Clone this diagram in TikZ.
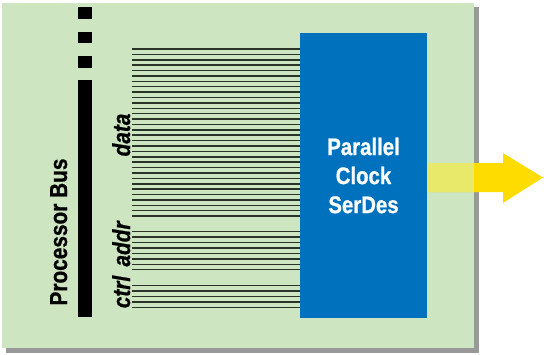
\documentclass[tikz,border=0pt]{standalone}
\usepackage{fontspec}
\usetikzlibrary{calc}
\setmainfont{Liberation Sans}[FakeStretch=0.85,BoldFeatures={FakeBold=0.8},BoldItalicFeatures={FakeBold=0.8}]
\definecolor{boardgreen}{HTML}{CEE5C1}
\definecolor{serdesblue}{HTML}{0071BC}
\definecolor{arrowyellow}{HTML}{FFDC00}
\definecolor{paleyellow}{HTML}{E8E86A}
\definecolor{wire}{HTML}{2A3328}
\tikzset{
  busbar/.style={fill=black},
  wireline/.style={draw=wire,line width=1.5pt},
  buslabel/.style={rotate=90,anchor=base,inner sep=0pt,font=\fontsize{24.5}{24.5}\selectfont\bfseries\itshape},
  serdesbox/.style={fill=serdesblue,minimum width=127pt,minimum height=285pt,inner sep=0pt,
    text=white,align=center,font=\fontsize{24}{29}\selectfont\bfseries}
}
\begin{document}
\begin{tikzpicture}[x=1pt,y=-1pt]
  \useasboundingbox (0,0) rectangle (544,354);
  % board with drop shadow
  \fill [black!40] (6,7) rectangle (479,353);
  \fill [boardgreen] (2,3) rectangle (474,348);
  % processor bus, broken at the top
  \fill [busbar] (78,80) rectangle (92,317);
  \foreach \ytop/\ybot in {7/19,32/43,56/68}
    \fill [busbar] (78,\ytop) rectangle (92,\ybot);
  \node [buslabel,font=\fontsize{24.5}{24.5}\selectfont\bfseries] (bus) at (67,232) {Processor Bus};
  % serializer block
  \node [serdesbox] (serdes) at (363.5,175.5) {Parallel\\Clock\\SerDes};
  % wires: data, addr, ctrl
  \coordinate (W) at (132,0);
  \foreach \i in {0,...,31}
    \draw [wireline] (W)++(0,49+5.39*\i) -- (serdes.west |- 0,49+5.39*\i);
  \foreach \i in {0,...,7}
    \draw [wireline] (W)++(0,231.7+5.43*\i) -- (serdes.west |- 0,231.7+5.43*\i);
  \foreach \i in {0,...,4}
    \draw [wireline] (W)++(0,285.7+5.4*\i) -- (serdes.west |- 0,285.7+5.4*\i);
  \node [buslabel] (data) at (130,135) {data};
  \node [buslabel] (addr) at (130,244) {addr};
  \node [buslabel] (ctrl) at (130,292) {ctrl};
  % serial output arrow
  \coordinate (A) at (serdes.east |- 0,177.5);
  \fill [arrowyellow] (A)++(0,-14.5) -| (503,153) -- (543,177.5) -- (503,203) |- ($(A)+(0,14.5)$) -- cycle;
  \fill [paleyellow] (A)++(0,-14.5) rectangle (474,192);
\end{tikzpicture}
\end{document}
